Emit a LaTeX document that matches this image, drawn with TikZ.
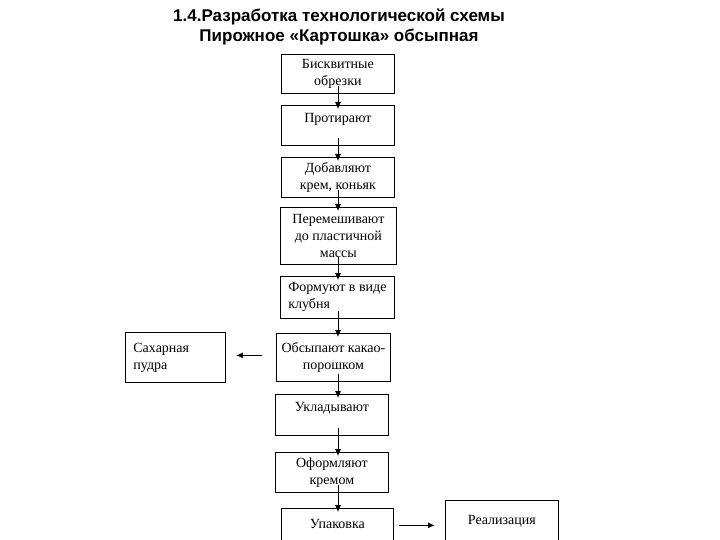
\documentclass[tikz,border=0pt]{standalone}
\usepackage{fontspec}
\setmainfont{Liberation Serif}
\newfontfamily\titlefont{Liberation Sans}
\usetikzlibrary{arrows.meta}
\begin{document}
\begin{tikzpicture}[x=1pt, y=-1pt,
    stage/.style={draw, line width=0.8pt, rectangle, anchor=north west,
              inner xsep=2pt, inner ysep=3pt, align=center,
              font=\fontsize{14}{17}\selectfont},
    leftstage/.style={stage, align=left},
    flow/.style={draw, line width=0.8pt, -{Latex[length=7pt,width=6pt]}},
    sideflow/.style={flow, line width=1.6pt}]
                \useasboundingbox (0,0) rectangle (720,540);
                \clip (0,0) rectangle (720,540);
                \coordinate (spine) at (338,0);
                \node[font=\titlefont\bfseries\fontsize{17}{20}\selectfont, align=center] (title) at (339,27)
                    {1.4.Разработка технологической схемы\\Пирожное «Картошка» обсыпная};
                \node[stage, minimum width=113, minimum height=39] (b1) at (281,54) {Бисквитные\\обрезки};
                \node[stage, minimum width=113, minimum height=40, text depth=14pt] (b2) at (281,105) {Протирают};
                \node[stage, minimum width=113, minimum height=40] (b3) at (281,157) {Добавляют\\крем, коньяк};
                \node[stage, minimum width=116, minimum height=57] (b4) at (280,207) {Перемешивают\\до пластичной\\массы};
                \node[leftstage, minimum width=114, minimum height=42] (b5) at (280,276) {Формуют в виде\\клубня};
                \node[stage, minimum width=114, minimum height=48] (b6) at (276,333) {Обсыпают какао-\\порошком};
                \node[leftstage, inner xsep=8pt, text width=84, minimum width=100, minimum height=50] (sugar) at (125,332) {Сахарная\\пудра};
                \node[stage, minimum width=113, minimum height=41, text depth=15pt] (b7) at (275,394) {Укладывают};
                \node[stage, minimum width=113, minimum height=40] (b8) at (275,452) {Оформляют\\кремом};
                \node[stage, minimum width=112, minimum height=60, text depth=28pt] (b9) at (281,508) {Упаковка};
                \node[stage, minimum width=113, minimum height=60, text depth=20pt] (sale) at (445,500) {Реализация};
                \foreach \a/\b in {b1/b2, b2/b3, b3/b4, b4/b5, b5/b6, b6/b7, b7/b8, b8/b9}{
                    \draw[flow] ([yshift=8pt]\a.south -| spine) -- ([yshift=-4pt]\b.north -| spine);
                };
                \draw[sideflow] ([xshift=-14pt,yshift=2pt]b6.west) -- ([xshift=10pt,yshift=2pt]b6.west -| sugar.east);
                \draw[sideflow] (b9.east |- sale.center) ++(5,-5) coordinate (pack) (pack) -- ([xshift=-10pt]pack -| sale.west);
            \end{tikzpicture}
\end{document}
